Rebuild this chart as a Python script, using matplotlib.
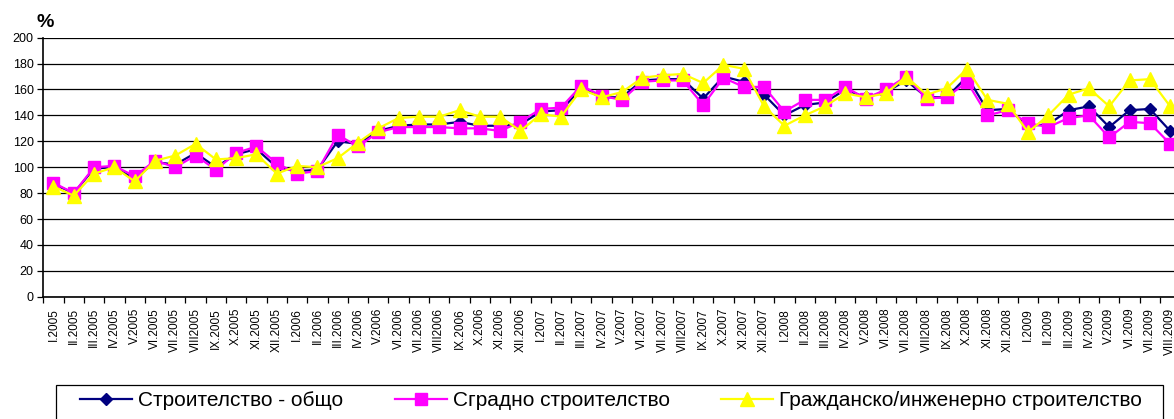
import matplotlib
matplotlib.use("Agg")
import matplotlib.pyplot as plt
from matplotlib.patches import Rectangle
import numpy as np

months = ["I", "II", "III", "IV", "V", "VI", "VII", "VIII", "IX", "X", "XI", "XII"]
labels = []
for yr in [2005, 2006, 2007, 2008, 2009]:
    for m in months:
        if m == "VIII" and yr < 2009:
            labels.append("VIII%d" % yr)
        else:
            labels.append("%s.%d" % (m, yr))
labels = labels[:56]

total = [87, 80, 99, 100, 91, 104, 102, 111, 100, 110, 114, 100,
         97, 98, 120, 118, 128, 132, 133, 133, 135, 132, 132, 133,
         143, 144, 161, 154, 154, 167, 168, 168, 153, 170, 166, 156,
         140, 148, 150, 160, 154, 158, 167, 154, 154, 170, 144, 145,
         132, 133, 144, 147, 131, 144, 145, 128]
buildings = [88, 80, 100, 101, 93, 105, 100, 109, 98, 111, 116, 103,
             95, 97, 125, 116, 127, 131, 131, 131, 130, 130, 128, 135,
             145, 146, 163, 155, 152, 166, 167, 167, 148, 169, 162, 162,
             143, 152, 152, 162, 153, 160, 170, 153, 154, 166, 140, 144,
             134, 131, 138, 140, 123, 135, 134, 118]
civil = [85, 78, 95, 100, 89, 105, 109, 118, 106, 107, 110, 95,
         101, 100, 107, 119, 130, 138, 139, 139, 144, 139, 139, 128,
         141, 139, 160, 154, 158, 169, 171, 172, 165, 179, 176, 147,
         132, 140, 147, 157, 154, 157, 170, 156, 161, 176, 152, 149,
         127, 140, 156, 161, 147, 167, 168, 147]

names = ["Строителство - общо", "Сградно строителство",
         "Гражданско/инженерно строителство"]

plt.rcParams['font.family'] = ['Liberation Sans', 'DejaVu Sans']

W, H = 1174, 419
fig = plt.figure(figsize=(W / 100, H / 100), dpi=100)
ax = fig.add_axes([43.3 / W, (H - 296.7) / H, 1137 / W, 259 / H])

x = np.arange(len(labels))
ax.plot(x, total, color="#000080", lw=1.6, marker="D", ms=6.5, mec="#000080", label=names[0], zorder=3)
ax.plot(x, buildings, color="#FF00FF", lw=1.6, marker="s", ms=8, mec="#FF00FF", label=names[1], zorder=4)
ax.plot(x, civil, color="#FFFF00", lw=1.6, marker="^", ms=10, mec="#FFFF00", label=names[2], zorder=5)

ax.set_xlim(-0.5, len(labels) - 0.5)
ax.set_ylim(0, 200)
ax.set_yticks(range(0, 201, 20))
ax.yaxis.grid(True, color="black", lw=0.9)
ax.set_axisbelow(True)

ax.set_xticks(x)
ax.set_xticklabels(labels, rotation=90, fontsize=8.5)
ax.set_xticks(np.arange(-0.5, len(labels), 1), minor=True)
ax.tick_params(axis="x", which="major", length=0, pad=8)
ax.tick_params(axis="x", which="minor", length=4, direction="out", width=0.9)
ax.tick_params(axis="y", length=4, direction="out", width=0.9, labelsize=9, pad=3)

for s in ["top", "right"]:
    ax.spines[s].set_visible(False)
for s in ["left", "bottom"]:
    ax.spines[s].set_linewidth(1.2)

fig.text(37 / W, 1 - 27 / H, "%", fontsize=14, fontweight="bold")

# legend box (runs off the bottom edge like in the original)
fig.patches.append(Rectangle((56 / W, -0.05), (1163 - 56) / W, 0.05 + (H - 385) / H,
                             transform=fig.transFigure, fill=False, edgecolor="black", lw=0.9))
leg = fig.legend(loc="upper left", bbox_to_anchor=(80 / W, 1 - 391 / H),
                 ncol=3, fontsize=15, frameon=False, handlelength=2.5,
                 handletextpad=0.3, columnspacing=2.45,
                 borderaxespad=0, borderpad=0)

fig.savefig("out.png", dpi=100)
